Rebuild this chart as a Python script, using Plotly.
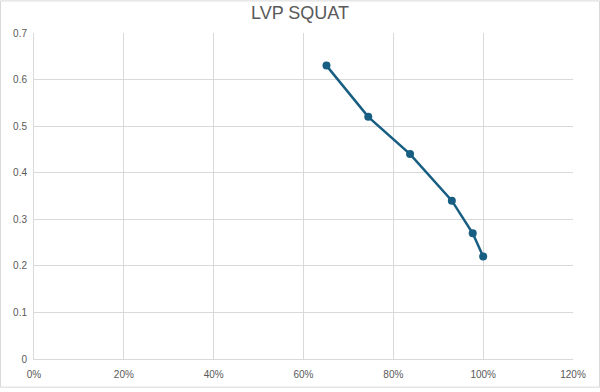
import plotly.graph_objects as go

title = "LVP SQUAT"
pct_1rm = [140/215, 160/215, 180/215, 200/215, 210/215, 215/215]
velocity = [0.63, 0.52, 0.44, 0.34, 0.27, 0.22]
x_ticks = [0, 0.2, 0.4, 0.6, 0.8, 1.0, 1.2]
y_ticks = [0, 0.1, 0.2, 0.3, 0.4, 0.5, 0.6, 0.7]

color = "#175E82"
grid = "#D9D9D9"
text = "#595959"

fig = go.Figure()
fig.add_trace(go.Scatter(
    x=pct_1rm, y=velocity, mode="lines+markers",
    line=dict(color=color, width=2.5),
    marker=dict(color=color, size=8),
    showlegend=False,
))

fig.update_layout(
    width=600, height=392,
    paper_bgcolor="white", plot_bgcolor="white",
    margin=dict(l=34, r=27, t=33, b=29),
    title=dict(text=title, x=0.5, xanchor="center", y=0.968, yanchor="middle",
               font=dict(family="Liberation Sans, Arial", size=18, color=text)),
    font=dict(family="Liberation Sans, Arial", size=10, color=text),
    xaxis=dict(range=[0, 1.2], tickvals=x_ticks, tickformat=".0%",
               showgrid=True, gridcolor=grid, gridwidth=1,
               zeroline=False, showline=True, linecolor=grid, mirror=False,
               ticks="outside", ticklen=6, tickcolor="rgba(0,0,0,0)",
               tickfont=dict(size=10, color=text)),
    yaxis=dict(range=[0, 0.7], tickvals=y_ticks,
               ticktext=["0", "0.1", "0.2", "0.3", "0.4", "0.5", "0.6", "0.7"],
               showgrid=True, gridcolor=grid, gridwidth=1,
               zeroline=False, showline=True, linecolor=grid,
               ticks="outside", ticklen=4, tickcolor="rgba(0,0,0,0)",
               tickfont=dict(size=10, color=text)),
    shapes=[dict(type="rect", xref="paper", yref="paper", x0=-33.5/539, x1=1+26.5/539,
                 y0=-28.5/330, y1=1+32.5/330, line=dict(color="#D9D9D9", width=1))],
)

fig.write_html("out.html", config={"displayModeBar": False},
               post_script="document.body.style.margin='0';")
